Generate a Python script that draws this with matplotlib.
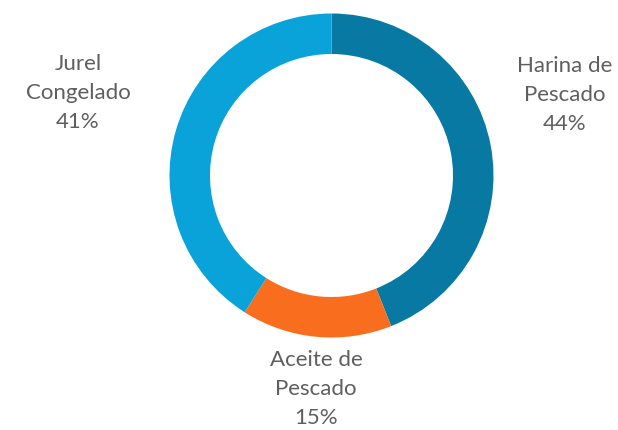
import matplotlib.pyplot as plt

categories = ["Harina de\nPescado", "Aceite de\nPescado", "Jurel\nCongelado"]
shares = [44, 15, 41]
colors = ["#0779A3", "#F96E1E", "#0AA3D9"]

W, H = 618, 430
fig = plt.figure(figsize=(W / 100, H / 100), dpi=100)

# donut centre ~(331.5, 175.5) px, outer radius ~162 px
cx, cy, r = 331.5, 175.5, 162
ax = fig.add_axes([(cx - r) / W, (H - cy - r) / H, 2 * r / W, 2 * r / H])
ax.pie(shares, colors=colors, startangle=90, counterclock=False, radius=1,
       wedgeprops=dict(width=0.25, linewidth=0))
ax.set_xlim(-1, 1)
ax.set_ylim(-1, 1)
ax.set_aspect("equal")
ax.axis("off")

# label anchor points in pixels (centre of the text block)
label_pos = [(565, 95), (316, 389), (78, 93)]
for name, val, (px, py) in zip(categories, shares, label_pos):
    fig.text(px / W, 1 - py / H, f"{name}\n{val}%", ha="center", va="center",
             fontsize=16, color="#5f5f5f", family="Lato", linespacing=1.55)

fig.savefig("out.png", dpi=100)
